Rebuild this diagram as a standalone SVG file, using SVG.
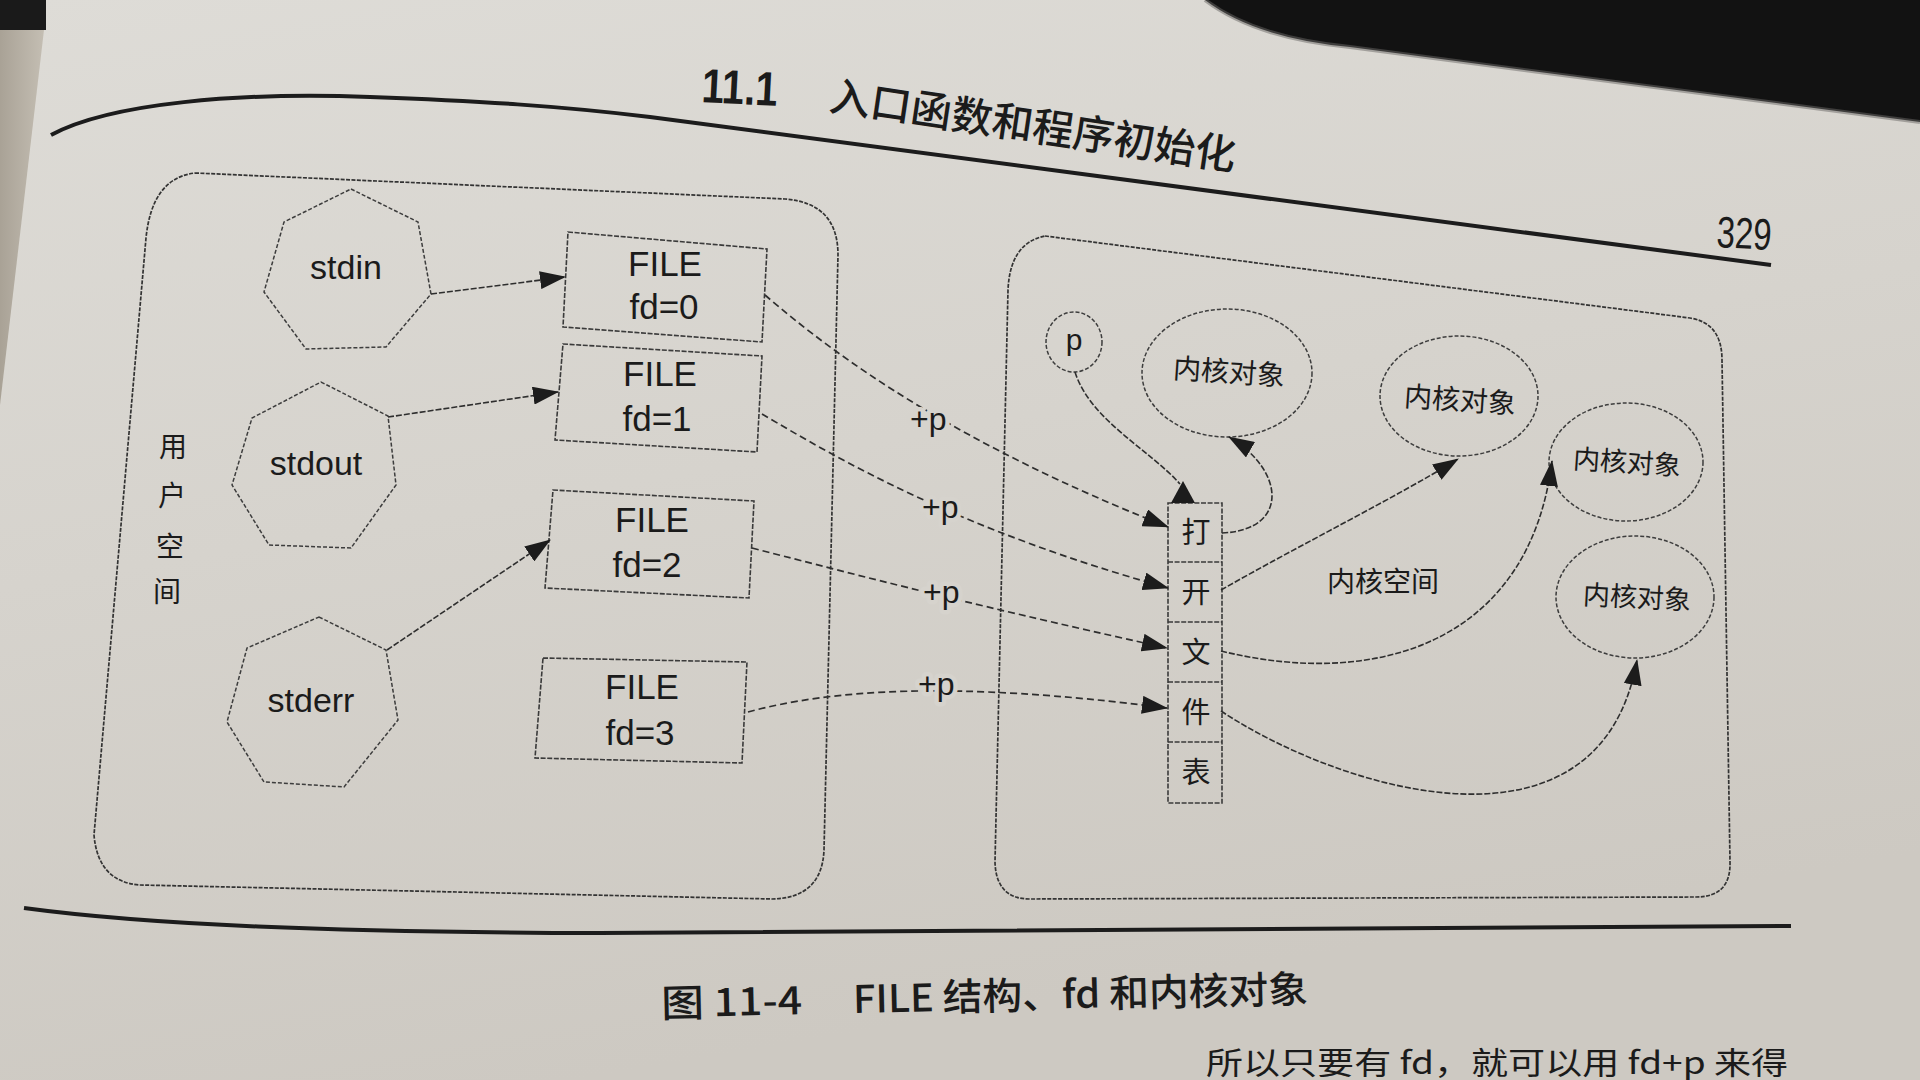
<svg xmlns="http://www.w3.org/2000/svg" width="1920" height="1080" viewBox="0 0 1920 1080">
<defs>
<linearGradient id="page" x1="0" y1="0" x2="0.3" y2="1">
<stop offset="0" stop-color="#dedcd7"/>
<stop offset="0.5" stop-color="#d6d3cd"/>
<stop offset="1" stop-color="#cdc9c2"/>
</linearGradient>
<linearGradient id="strip" x1="0" y1="0" x2="1" y2="0">
<stop offset="0" stop-color="#a9a296"/>
<stop offset="1" stop-color="#c4beb3"/>
</linearGradient>
<marker id="arr" markerUnits="userSpaceOnUse" markerWidth="26" markerHeight="18" refX="25" refY="9" orient="auto">
<path d="M0,0 L26,9 L0,18 Z" fill="#1c1c1c"/>
</marker>
<style>
.t{font-family:"Liberation Sans","Noto Sans CJK SC",Arial,sans-serif;fill:#1b1b1b}
.c{font-family:"Noto Sans CJK SC","Liberation Sans",sans-serif;fill:#1b1b1b}
.box{fill:none;stroke:#3a3a3a;stroke-width:1.6;stroke-dasharray:5 1.6}
.cont{fill:none;stroke:#333;stroke-width:1.7;stroke-dasharray:4 1.4}
.shape{fill:none;stroke:#3d3d3d;stroke-width:1.5;stroke-dasharray:4 2}
.con{fill:none;stroke:#2e2e2e;stroke-width:1.7;stroke-dasharray:7 4}
.conk{fill:none;stroke:#2e2e2e;stroke-width:1.6;stroke-dasharray:6 2}
.halo{paint-order:stroke;stroke:#d6d3cd;stroke-width:9;stroke-linejoin:round}
</style>
</defs>

<!-- page background -->
<rect x="0" y="0" width="1920" height="1080" fill="url(#page)"/>
<path d="M0,0 L44,0 L44,30 L0,405 Z" fill="url(#strip)"/>
<rect x="0" y="0" width="46" height="30" fill="#1a1a1a"/>
<path d="M1205,0 Q1255,38 1350,47 L1920,122 L1920,0 Z" fill="#121212"/>
<path d="M1205,0 Q1255,38 1350,47 L1920,122" fill="none" stroke="#6a6866" stroke-width="4" opacity="0.5"/>

<!-- running header -->
<path d="M51,135 C110,103 240,92 370,97 C480,101 560,106 650,117 L1771,265" fill="none" stroke="#1c1c1c" stroke-width="4"/>
<text class="t" x="701" y="102" font-size="48" font-weight="bold" textLength="76" lengthAdjust="spacingAndGlyphs" transform="rotate(3 701 102)">11.1</text>
<text class="c" x="828" y="110" font-size="41" font-weight="500" transform="rotate(8.5 828 110)">入口函数和程序初始化</text>
<text class="t" x="1716" y="247" font-size="44" textLength="55" lengthAdjust="spacingAndGlyphs" transform="rotate(3 1716 247)">329</text>

<!-- containers -->
<g id="user-space">
<path class="cont" d="M195,173 L785,199 Q838,203 838,255 L824,850 Q822,898 772,899 L140,885 Q98,882 94,835 L146,238 Q152,178 195,173 Z"/>
<text class="c" x="173" y="457" font-size="28" text-anchor="middle">用</text>
<text class="c" x="172" y="506" font-size="28" text-anchor="middle">户</text>
<text class="c" x="170" y="557" font-size="28" text-anchor="middle">空</text>
<text class="c" x="167" y="602" font-size="28" text-anchor="middle">间</text>
</g>
<g id="kernel-space">
<path class="cont" d="M1045,236 L1690,318 Q1722,323 1722,360 L1730,862 Q1731,897 1696,897 L1030,899 Q996,899 995,862 L1008,290 Q1010,243 1045,236 Z"/>
<text class="c" x="1383" y="592" font-size="28" text-anchor="middle">内核空间</text>
</g>

<!-- stream nodes -->
<g id="stdin">
<polygon class="shape" points="351,189 418,222 431,294 386,347 306,349 264,292 284,222"/>
<text class="t" x="346" y="279" font-size="34" text-anchor="middle">stdin</text>
</g>
<g id="stdout">
<polygon class="shape" points="321,382 388,416 396,485 351,548 269,545 232,485 252,418"/>
<text class="t" x="316" y="475" font-size="34" text-anchor="middle">stdout</text>
</g>
<g id="stderr">
<polygon class="shape" points="319,617 386,650 398,720 344,787 264,782 227,722 247,648"/>
<text class="t" x="311" y="712" font-size="34" text-anchor="middle">stderr</text>
</g>

<!-- FILE nodes -->
<g id="file0">
<polygon class="box" points="568,232 767,249 762,342 563,327"/>
<text class="t" x="665" y="276" font-size="35" text-anchor="middle">FILE</text>
<text class="t" x="664" y="319" font-size="35" text-anchor="middle">fd=0</text>
</g>
<g id="file1">
<polygon class="box" points="563,344 762,356 757,452 555,440"/>
<text class="t" x="660" y="386" font-size="35" text-anchor="middle">FILE</text>
<text class="t" x="657" y="431" font-size="35" text-anchor="middle">fd=1</text>
</g>
<g id="file2">
<polygon class="box" points="553,490 754,501 749,598 545,588"/>
<text class="t" x="652" y="532" font-size="35" text-anchor="middle">FILE</text>
<text class="t" x="647" y="577" font-size="35" text-anchor="middle">fd=2</text>
</g>
<g id="file3">
<polygon class="box" points="543,658 747,662 742,763 535,758"/>
<text class="t" x="642" y="699" font-size="35" text-anchor="middle">FILE</text>
<text class="t" x="640" y="745" font-size="35" text-anchor="middle">fd=3</text>
</g>

<!-- kernel nodes -->
<g id="p">
<ellipse class="shape" cx="1074" cy="342" rx="28" ry="30"/>
<text class="t" x="1074" y="350" font-size="30" text-anchor="middle">p</text>
</g>
<g id="file-table">
<rect class="box" x="1168" y="503" width="54" height="300"/>
<path class="box" d="M1168,562 H1222 M1168,622 H1222 M1168,682 H1222 M1168,742 H1222"/>
<text class="c" x="1196" y="543" font-size="29" text-anchor="middle">打</text>
<text class="c" x="1196" y="603" font-size="29" text-anchor="middle">开</text>
<text class="c" x="1196" y="663" font-size="29" text-anchor="middle">文</text>
<text class="c" x="1196" y="723" font-size="29" text-anchor="middle">件</text>
<text class="c" x="1196" y="783" font-size="29" text-anchor="middle">表</text>
</g>
<g id="kobj1">
<ellipse class="shape" cx="1227" cy="373" rx="85" ry="64"/>
<text class="c" x="1229" y="382" font-size="28" text-anchor="middle" transform="rotate(4 1229 372)">内核对象</text>
</g>
<g id="kobj2">
<ellipse class="shape" cx="1459" cy="396" rx="79" ry="60"/>
<text class="c" x="1460" y="410" font-size="28" text-anchor="middle" transform="rotate(4 1460 400)">内核对象</text>
</g>
<g id="kobj3">
<ellipse class="shape" cx="1626" cy="462" rx="77" ry="59"/>
<text class="c" x="1627" y="472" font-size="27" text-anchor="middle" transform="rotate(4 1627 462)">内核对象</text>
</g>
<g id="kobj4">
<ellipse class="shape" cx="1635" cy="597" rx="79" ry="61"/>
<text class="c" x="1637" y="607" font-size="27" text-anchor="middle" transform="rotate(3 1637 597)">内核对象</text>
</g>

<!-- connectors -->
<g id="connectors">
<path class="conk" d="M431,294 L565,277" marker-end="url(#arr)"/>
<path class="conk" d="M388,417 L558,392" marker-end="url(#arr)"/>
<path class="conk" d="M387,650 L550,540" marker-end="url(#arr)"/>

<path class="con" d="M765,295 C840,360 960,445 1168,527" marker-end="url(#arr)"/>
<path class="con" d="M762,414 C840,460 960,530 1168,588" marker-end="url(#arr)"/>
<path class="con" d="M752,548 C830,568 950,600 1167,648" marker-end="url(#arr)"/>
<path class="con" d="M748,712 C830,690 950,680 1167,708" marker-end="url(#arr)"/>
<text class="t halo" x="910" y="430" font-size="32">+p</text>
<text class="t halo" x="922" y="518" font-size="32">+p</text>
<text class="t halo" x="923" y="603" font-size="32">+p</text>
<text class="t halo" x="918" y="695" font-size="32">+p</text>

<path class="conk" d="M1075,372 C1090,420 1150,450 1180,484"/>
<polygon points="1183,481 1171,503 1195,503" fill="#1c1c1c"/>

<path class="conk" d="M1222,533 C1290,530 1285,470 1229,437" marker-end="url(#arr)"/>
<path class="conk" d="M1221,590 C1300,545 1400,495 1458,459" marker-end="url(#arr)"/>
<path class="conk" d="M1221,651 C1380,690 1530,640 1552,461" marker-end="url(#arr)"/>
<path class="conk" d="M1221,711 C1340,790 1600,870 1637,660" marker-end="url(#arr)"/>
</g>

<!-- rule and caption -->
<path d="M24,908 C150,925 330,932 600,933 L1791,926" fill="none" stroke="#1c1c1c" stroke-width="4"/>
<g transform="rotate(-1.3 985 995)">
<text class="c" x="661" y="1010" font-size="38" font-weight="500" textLength="141" lengthAdjust="spacingAndGlyphs">图 11-4</text>
<text class="c" x="853" y="1010" font-size="38" font-weight="500" textLength="455" lengthAdjust="spacingAndGlyphs">FILE 结构、fd 和内核对象</text>
</g>
<text class="c" x="1206" y="1074" font-size="31" textLength="582" lengthAdjust="spacingAndGlyphs">所以只要有 fd，就可以用 fd+p 来得</text>
</svg>
